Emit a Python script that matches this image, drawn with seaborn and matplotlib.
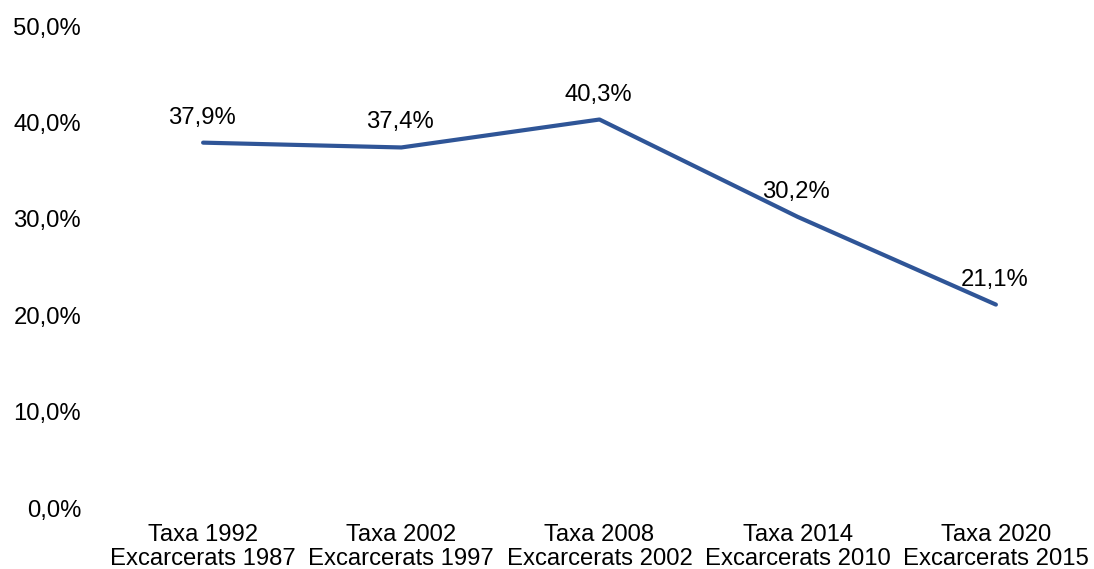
import matplotlib
matplotlib.use('Agg')
import matplotlib.pyplot as plt
import seaborn as sns
import pandas as pd

# Dades
categories = ['Taxa 1992\nExcarcerats 1987', 'Taxa 2002\nExcarcerats 1997',
              'Taxa 2008\nExcarcerats 2002', 'Taxa 2014\nExcarcerats 2010',
              'Taxa 2020\nExcarcerats 2015']
taxa = [37.9, 37.4, 40.3, 30.2, 21.1]
yticks = [0, 10, 20, 30, 40, 50]

sns.set_style('white')
plt.rcParams['font.family'] = ['Liberation Sans', 'DejaVu Sans']
plt.rcParams['text.color'] = 'black'
plt.rcParams['xtick.color'] = 'black'
plt.rcParams['ytick.color'] = 'black'

df = pd.DataFrame({'cat': categories, 'taxa': taxa})

fs = 17.2
fig = plt.figure(figsize=(10.94, 5.69), dpi=100)
ax = fig.add_axes([104 / 1094, 1 - 508 / 569, 991 / 1094, 482 / 569])
sns.lineplot(data=df, x='cat', y='taxa', ax=ax, color='#2F5597', linewidth=3, sort=False)

for i, v in enumerate(taxa):
    ax.annotate(f'{v:.1f}%'.replace('.', ','), (i, v), xytext=(-1, 18),
                textcoords='offset points', ha='center', va='center', fontsize=fs)

ax.set_xlim(-0.5, 4.5)
ax.set_ylim(0, 50)
ax.set_yticks(yticks)
ax.set_yticklabels([f'{t:.1f}%'.replace('.', ',') for t in yticks], fontsize=fs)
ax.set_xticks(range(len(categories)))
ax.set_xticklabels(categories, fontsize=fs, linespacing=1.12)
ax.tick_params(axis='y', length=0, pad=16.5)
ax.tick_params(axis='x', length=0, pad=11.5)
ax.set_xlabel('')
ax.set_ylabel('')
for s in ax.spines.values():
    s.set_visible(False)

plt.savefig('out.png', dpi=100)
